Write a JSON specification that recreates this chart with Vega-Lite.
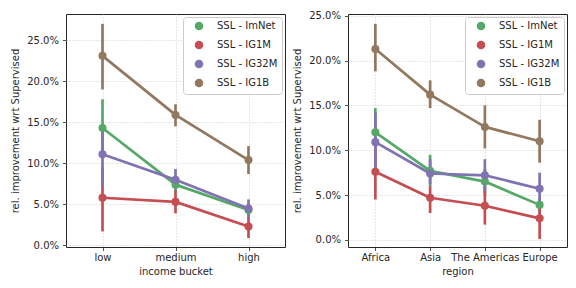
{
  "$schema": "https://vega.github.io/schema/vega-lite/v6.json",
  "padding": {"left": 10, "top": 10, "right": 5, "bottom": 5},
  "background": "white",
  "config": {
    "font": "DejaVu Sans",
    "view": {"stroke": "#262626", "strokeWidth": 1},
    "axis": {
      "domain": false,
      "labelFont": "DejaVu Sans",
      "labelFontSize": 10,
      "labelColor": "#262626",
      "titleFont": "DejaVu Sans",
      "titleFontSize": 10,
      "titleFontWeight": "normal",
      "titleColor": "#262626",
      "tickColor": "#262626",
      "tickSize": 3.5,
      "tickWidth": 0.8,
      "grid": true,
      "gridColor": "#c8c8c8",
      "gridDash": [1, 2],
      "gridWidth": 0.9
    },
    "axisX": {"labelAngle": 0, "labelPadding": 2, "titlePadding": 4},
    "axisY": {"labelPadding": 4, "titlePadding": 6}
  },
  "datasets": {
    "income": [
      {"cat": "low", "series": "SSL - ImNet", "mean": 0.143, "lo": 0.108, "hi": 0.178},
      {"cat": "medium", "series": "SSL - ImNet", "mean": 0.074, "lo": 0.065, "hi": 0.083},
      {"cat": "high", "series": "SSL - ImNet", "mean": 0.043, "lo": 0.035, "hi": 0.051},
      {"cat": "low", "series": "SSL - IG1M", "mean": 0.058, "lo": 0.017, "hi": 0.095},
      {"cat": "medium", "series": "SSL - IG1M", "mean": 0.053, "lo": 0.039, "hi": 0.067},
      {"cat": "high", "series": "SSL - IG1M", "mean": 0.023, "lo": 0.009, "hi": 0.037},
      {"cat": "low", "series": "SSL - IG32M", "mean": 0.111, "lo": 0.072, "hi": 0.143},
      {"cat": "medium", "series": "SSL - IG32M", "mean": 0.080, "lo": 0.068, "hi": 0.093},
      {"cat": "high", "series": "SSL - IG32M", "mean": 0.045, "lo": 0.033, "hi": 0.056},
      {"cat": "low", "series": "SSL - IG1B", "mean": 0.231, "lo": 0.190, "hi": 0.270},
      {"cat": "medium", "series": "SSL - IG1B", "mean": 0.159, "lo": 0.145, "hi": 0.172},
      {"cat": "high", "series": "SSL - IG1B", "mean": 0.104, "lo": 0.087, "hi": 0.121}
    ],
    "region": [
      {"cat": "Africa", "series": "SSL - ImNet", "mean": 0.120, "lo": 0.093, "hi": 0.147},
      {"cat": "Asia", "series": "SSL - ImNet", "mean": 0.077, "lo": 0.060, "hi": 0.095},
      {"cat": "The Americas", "series": "SSL - ImNet", "mean": 0.065, "lo": 0.050, "hi": 0.079},
      {"cat": "Europe", "series": "SSL - ImNet", "mean": 0.039, "lo": 0.030, "hi": 0.048},
      {"cat": "Africa", "series": "SSL - IG1M", "mean": 0.076, "lo": 0.045, "hi": 0.105},
      {"cat": "Asia", "series": "SSL - IG1M", "mean": 0.047, "lo": 0.030, "hi": 0.060},
      {"cat": "The Americas", "series": "SSL - IG1M", "mean": 0.038, "lo": 0.017, "hi": 0.060},
      {"cat": "Europe", "series": "SSL - IG1M", "mean": 0.024, "lo": 0.001, "hi": 0.040},
      {"cat": "Africa", "series": "SSL - IG32M", "mean": 0.109, "lo": 0.080, "hi": 0.142},
      {"cat": "Asia", "series": "SSL - IG32M", "mean": 0.074, "lo": 0.062, "hi": 0.090},
      {"cat": "The Americas", "series": "SSL - IG32M", "mean": 0.072, "lo": 0.054, "hi": 0.090},
      {"cat": "Europe", "series": "SSL - IG32M", "mean": 0.057, "lo": 0.043, "hi": 0.075},
      {"cat": "Africa", "series": "SSL - IG1B", "mean": 0.213, "lo": 0.188, "hi": 0.241},
      {"cat": "Asia", "series": "SSL - IG1B", "mean": 0.162, "lo": 0.147, "hi": 0.178},
      {"cat": "The Americas", "series": "SSL - IG1B", "mean": 0.126, "lo": 0.102, "hi": 0.150},
      {"cat": "Europe", "series": "SSL - IG1B", "mean": 0.110, "lo": 0.086, "hi": 0.134}
    ]
  },
  "hconcat": [
    {
      "width": 219,
      "height": 233,
      "data": {"name": "income"},
      "encoding": {
        "x": {"field": "cat", "type": "nominal", "sort": ["low", "medium", "high"], "scale": {"type": "point", "padding": 0.5}, "title": "income bucket"}
      },
      "layer": [
        {"mark": {"type": "rule", "strokeWidth": 2.7}, "encoding": {"y": {"field": "lo", "type": "quantitative", "title": "rel. improvement wrt Supervised", "scale": {"domain": [-0.002, 0.282], "nice": false, "zero": false}, "axis": {"format": ".1%", "values": [0, 0.05, 0.1, 0.15, 0.2, 0.25]}}, "y2": {"field": "hi"}, "color": {"field": "series", "type": "nominal", "scale": {"domain": ["SSL - ImNet", "SSL - IG1M", "SSL - IG32M", "SSL - IG1B"], "range": ["#55A868", "#C44E52", "#8172B2", "#937860"]}}}},
        {"mark": {"type": "line", "strokeWidth": 2.7, "strokeJoin": "round"}, "encoding": {"y": {"field": "mean", "type": "quantitative", "title": "rel. improvement wrt Supervised"}, "color": {"field": "series", "type": "nominal"}}},
        {"mark": {"type": "point", "filled": true, "size": 65, "opacity": 1}, "encoding": {"y": {"field": "mean", "type": "quantitative", "title": "rel. improvement wrt Supervised"}, "color": {"field": "series", "type": "nominal", "legend": {"title": null, "orient": "top-right", "offset": 3, "fillColor": "white", "strokeColor": "#cccccc", "cornerRadius": 3, "padding": 4, "symbolSize": 50, "symbolOffset": 7, "labelOffset": 13, "rowPadding": 5, "labelFontSize": 10, "labelColor": "#262626", "labelFont": "DejaVu Sans"}}}}
      ]
    },
    {
      "width": 219,
      "height": 233,
      "data": {"name": "region"},
      "encoding": {
        "x": {"field": "cat", "type": "nominal", "sort": ["Africa", "Asia", "The Americas", "Europe"], "scale": {"type": "point", "padding": 0.5}, "title": "region"}
      },
      "layer": [
        {"mark": {"type": "rule", "strokeWidth": 2.7}, "encoding": {"y": {"field": "lo", "type": "quantitative", "title": "rel. improvement wrt Supervised", "scale": {"domain": [-0.008, 0.252], "nice": false, "zero": false}, "axis": {"format": ".1%", "values": [0, 0.05, 0.1, 0.15, 0.2, 0.25]}}, "y2": {"field": "hi"}, "color": {"field": "series", "type": "nominal", "scale": {"domain": ["SSL - ImNet", "SSL - IG1M", "SSL - IG32M", "SSL - IG1B"], "range": ["#55A868", "#C44E52", "#8172B2", "#937860"]}}}},
        {"mark": {"type": "line", "strokeWidth": 2.7, "strokeJoin": "round"}, "encoding": {"y": {"field": "mean", "type": "quantitative", "title": "rel. improvement wrt Supervised"}, "color": {"field": "series", "type": "nominal"}}},
        {"mark": {"type": "point", "filled": true, "size": 65, "opacity": 1}, "encoding": {"y": {"field": "mean", "type": "quantitative", "title": "rel. improvement wrt Supervised"}, "color": {"field": "series", "type": "nominal", "legend": {"title": null, "orient": "top-right", "offset": 3, "fillColor": "white", "strokeColor": "#cccccc", "cornerRadius": 3, "padding": 4, "symbolSize": 50, "symbolOffset": 7, "labelOffset": 13, "rowPadding": 5, "labelFontSize": 10, "labelColor": "#262626", "labelFont": "DejaVu Sans"}}}}
      ]
    }
  ],
  "spacing": 63,
  "bounds": "flush",
  "resolve": {"scale": {"color": "independent"}}
}
